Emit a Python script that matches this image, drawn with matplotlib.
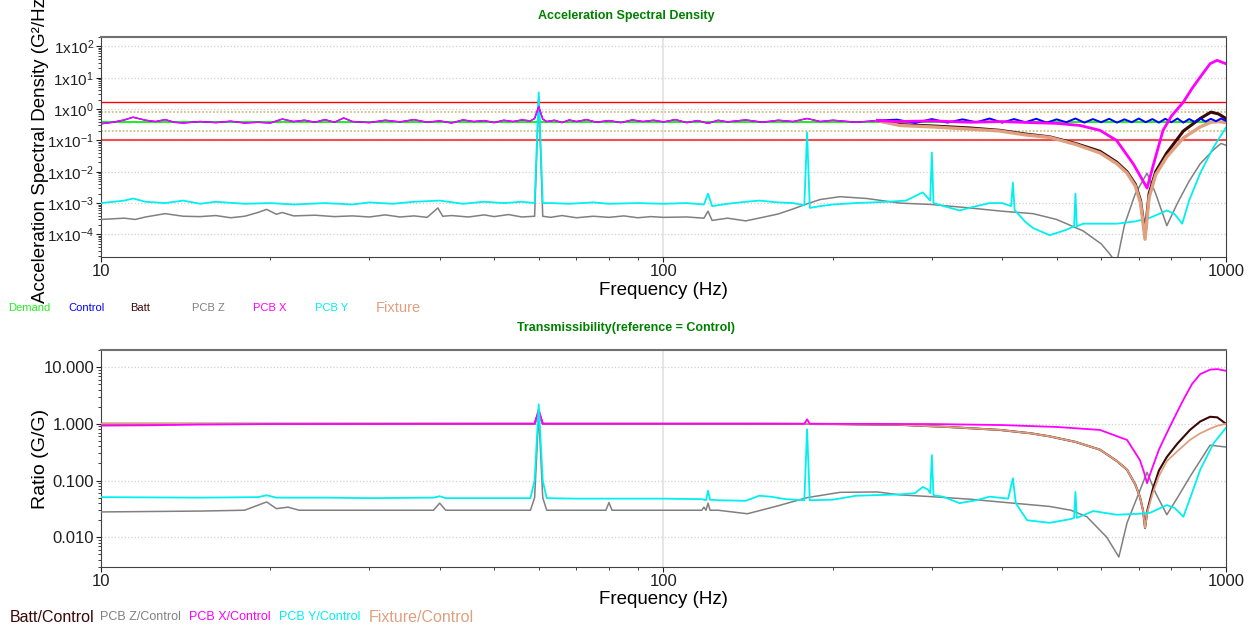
import matplotlib as mpl
mpl.use('Agg')
import matplotlib.pyplot as plt
from matplotlib.ticker import FixedLocator, FuncFormatter, LogLocator, NullFormatter

plt.rcParams['font.family'] = ['Liberation Sans', 'DejaVu Sans']
plt.rcParams['mathtext.default'] = 'regular'

# ---------------- data: ASD (G^2/Hz) ----------------
demand_level = 0.4
alarm_levels = [0.8, 0.2]
abort_levels = [1.64, 0.1]

# shared low-frequency part of the controlled channels
asd_base_f = [10, 10.5, 11, 11.4, 12, 12.5, 13, 13.5, 14, 15, 16, 17, 18, 19, 20, 21, 22, 23,
              24, 25, 26, 27, 28, 30, 32, 34, 36, 38, 40, 42, 44, 46, 48, 50, 52, 54, 56, 58,
              59, 60, 61, 62, 64, 66, 68, 70, 73, 76, 80, 84, 88, 92, 96, 100, 105, 110, 115,
              120, 125, 130, 140, 150, 160, 170, 180, 190, 200, 220, 240]
asd_base_v = [0.34, 0.38, 0.45, 0.55, 0.44, 0.40, 0.46, 0.38, 0.36, 0.40, 0.37, 0.41, 0.36,
              0.38, 0.36, 0.48, 0.40, 0.44, 0.38, 0.46, 0.38, 0.52, 0.40, 0.37, 0.44, 0.39,
              0.46, 0.38, 0.42, 0.36, 0.45, 0.40, 0.43, 0.37, 0.44, 0.40, 0.45, 0.42, 0.50,
              1.20, 0.48, 0.40, 0.44, 0.37, 0.45, 0.40, 0.46, 0.38, 0.43, 0.37, 0.45, 0.40,
              0.44, 0.39, 0.46, 0.37, 0.43, 0.35, 0.44, 0.39, 0.45, 0.38, 0.44, 0.40, 0.50,
              0.40, 0.44, 0.38, 0.43]

control_tail_f = [240, 260, 280, 300, 320, 340, 360, 380, 400, 420, 440, 460, 480, 500, 520,
                  540, 560, 580, 600, 620, 640, 660, 680, 700, 720, 740, 760, 780, 800, 820,
                  840, 860, 880, 900, 920, 940, 960, 980, 1000]
control_tail_v = [0.43, 0.46, 0.36, 0.48, 0.37, 0.47, 0.38, 0.50, 0.37, 0.48, 0.38, 0.49,
                  0.37, 0.47, 0.38, 0.50, 0.37, 0.48, 0.38, 0.49, 0.37, 0.47, 0.38, 0.50,
                  0.38, 0.48, 0.37, 0.49, 0.38, 0.50, 0.37, 0.48, 0.39, 0.50, 0.40, 0.49,
                  0.41, 0.50, 0.42]

pcbx_tail_f = [240, 260, 300, 350, 400, 450, 500, 550, 597, 639, 684, 705, 724, 745, 773,
               800, 840, 870, 900, 937, 964, 1000]
pcbx_tail_v = [0.43, 0.40, 0.42, 0.38, 0.40, 0.37, 0.35, 0.30, 0.21, 0.10, 0.018, 0.007,
               0.003, 0.02, 0.21, 0.6, 1.67, 4.5, 10.5, 28.0, 36.0, 28.0]

batt_tail_f = [240, 263, 300, 350, 396, 440, 486, 540, 597, 640, 667, 690, 705, 718, 730,
               750, 785, 840, 900, 940, 970, 1000]
batt_tail_v = [0.43, 0.32, 0.29, 0.25, 0.21, 0.16, 0.13, 0.08, 0.045, 0.02, 0.01, 0.004,
               0.0012, 0.0001, 0.002, 0.01, 0.04, 0.2, 0.5, 0.8, 0.7, 0.5]

fixture_tail_f = [240, 263, 300, 350, 396, 440, 486, 540, 597, 640, 667, 690, 705, 718, 730,
                  750, 785, 840, 900, 940, 970, 1000]
fixture_tail_v = [0.43, 0.30, 0.27, 0.23, 0.20, 0.15, 0.125, 0.075, 0.04, 0.018, 0.009,
                  0.0035, 0.001, 0.00007, 0.0015, 0.008, 0.03, 0.12, 0.27, 0.38, 0.40, 0.37]

pcbz_f = [10, 11, 11.5, 12, 13, 14, 15, 16, 17, 18, 19, 19.7, 20.5, 21, 22, 24, 26, 28, 30,
          32, 34, 36, 38, 39.7, 40.5, 42, 45, 48, 50, 53, 56, 59, 60, 61, 63, 66, 70, 75, 80,
          85, 90, 95, 100, 110, 118, 120, 122, 130, 140, 150, 160, 170, 180, 190, 206, 230,
          263, 300, 350, 400, 454, 500, 557, 600, 620, 639, 660, 690, 724, 750, 785, 820,
          860, 900, 950, 980, 1000]
pcbz_v = [3.0e-4, 3.3e-4, 3.0e-4, 3.6e-4, 4.6e-4, 3.8e-4, 3.7e-4, 4.0e-4, 3.4e-4, 3.8e-4,
          5.0e-4, 6.3e-4, 4.4e-4, 5.0e-4, 3.9e-4, 4.1e-4, 3.7e-4, 3.9e-4, 3.6e-4, 4.2e-4,
          3.6e-4, 3.9e-4, 3.5e-4, 7.0e-4, 3.8e-4, 4.0e-4, 3.6e-4, 4.2e-4, 3.7e-4, 4.3e-4,
          3.6e-4, 3.8e-4, 2.5, 3.8e-4, 3.5e-4, 4.0e-4, 3.4e-4, 3.8e-4, 3.5e-4, 3.9e-4,
          3.4e-4, 3.7e-4, 3.5e-4, 3.6e-4, 3.3e-4, 5.5e-4, 2.8e-4, 3.3e-4, 2.7e-4, 3.5e-4,
          4.5e-4, 6.5e-4, 9.5e-4, 1.3e-3, 1.6e-3, 1.4e-3, 1.0e-3, 9.0e-4, 7.0e-4, 5.5e-4,
          4.6e-4, 3.0e-4, 1.3e-4, 5.0e-5, 2.5e-5, 1.2e-5, 2.0e-4, 2.0e-3, 9.0e-3, 2.0e-3,
          1.9e-4, 1.0e-3, 5.0e-3, 1.8e-2, 5.0e-2, 8.0e-2, 7.0e-2]

pcby_f = [10, 11, 11.4, 12, 13, 14, 15, 16, 18, 20, 22, 25, 28, 30, 33, 36, 40, 44, 48, 52,
          56, 59, 60, 61, 63, 68, 75, 80, 90, 100, 110, 118, 120, 122, 130, 140, 148, 160,
          170, 178, 180, 182, 190, 200, 220, 250, 270, 289, 298, 300, 302, 315, 336, 360,
          380, 400, 415, 418, 421, 440, 454, 486, 520, 537, 540, 543, 557, 600, 639, 690,
          733, 785, 810, 836, 860, 900, 950, 1000]
pcby_v = [1.0e-3, 1.2e-3, 1.4e-3, 1.1e-3, 1.0e-3, 1.2e-3, 9.5e-4, 1.1e-3, 9.5e-4, 1.0e-3,
          9.0e-4, 1.0e-3, 9.0e-4, 1.05e-3, 9.5e-4, 1.1e-3, 1.2e-3, 9.5e-4, 1.1e-3, 1.0e-3,
          1.1e-3, 1.0e-3, 3.4, 1.0e-3, 1.0e-3, 9.5e-4, 1.05e-3, 9.5e-4, 1.0e-3, 9.5e-4,
          1.0e-3, 9.0e-4, 2.0e-3, 8.0e-4, 9.5e-4, 1.1e-3, 1.2e-3, 1.05e-3, 1.0e-3, 8.5e-4,
          0.18, 7.0e-4, 8.0e-4, 9.0e-4, 1.0e-3, 1.1e-3, 1.2e-3, 2.2e-3, 1.2e-3, 0.041,
          1.0e-3, 8.0e-4, 5.8e-4, 8.0e-4, 1.0e-3, 1.0e-3, 8.0e-4, 4.5e-3, 6.0e-4, 2.5e-4,
          1.6e-4, 9.4e-5, 1.4e-4, 1.8e-4, 2.0e-3, 1.8e-4, 2.2e-4, 2.2e-4, 2.2e-4, 2.6e-4,
          3.4e-4, 5.8e-4, 4.5e-4, 2.2e-4, 1.2e-3, 9.0e-3, 6.0e-2, 2.6e-1]

# ---------------- data: transmissibility (G/G) ----------------
tr_batt_f = [10, 50, 59, 60, 61, 100, 150, 200, 263, 320, 396, 450, 486, 540, 597, 640, 667,
             690, 703, 712, 718, 725, 741, 760, 785, 820, 863, 900, 937, 965, 1000]
tr_batt_v = [1.0, 1.0, 1.0, 1.6, 1.0, 1.0, 1.0, 0.99, 0.96, 0.88, 0.78, 0.68, 0.6, 0.48,
             0.35, 0.22, 0.155, 0.085, 0.052, 0.03, 0.0146, 0.03, 0.07, 0.15, 0.26, 0.45,
             0.78, 1.1, 1.33, 1.3, 1.0]

tr_fixture_f = [10, 50, 59, 60, 61, 100, 150, 200, 263, 320, 396, 450, 486, 540, 597, 640,
                667, 690, 703, 712, 718, 725, 741, 760, 785, 820, 863, 900, 937, 965, 1000]
tr_fixture_v = [1.0, 1.0, 1.0, 1.5, 1.0, 1.0, 1.0, 0.99, 0.96, 0.88, 0.78, 0.68, 0.6, 0.48,
                0.35, 0.22, 0.155, 0.085, 0.052, 0.03, 0.0146, 0.028, 0.06, 0.12, 0.22, 0.33,
                0.52, 0.68, 0.82, 0.92, 1.0]

tr_pcbx_f = [10, 12, 15, 20, 50, 59, 60, 61, 100, 178, 180, 182, 300, 400, 500, 597, 667,
             703, 715, 724, 735, 760, 785, 810, 840, 870, 900, 937, 965, 1000]
tr_pcbx_v = [0.93, 0.94, 0.97, 0.99, 1.0, 1.0, 1.8, 1.0, 1.0, 1.0, 1.2, 1.0, 0.99, 0.95,
             0.88, 0.78, 0.52, 0.23, 0.14, 0.09, 0.14, 0.35, 0.69, 1.3, 2.65, 5.0, 7.5, 9.0,
             9.2, 8.6]

tr_pcbz_f = [10, 15, 18, 19.7, 20.5, 21.5, 22.5, 25, 30, 39, 40, 41, 50, 58, 59, 60, 61, 62,
             70, 79, 80, 81, 100, 117, 118, 119, 120, 121, 125, 141, 160, 180, 206, 240, 263,
             300, 350, 396, 486, 530, 566, 614, 645, 667, 700, 724, 750, 785, 820, 863, 937,
             1000]
tr_pcbz_v = [0.028, 0.029, 0.030, 0.042, 0.032, 0.034, 0.030, 0.030, 0.030, 0.030, 0.040,
             0.030, 0.030, 0.030, 0.05, 1.5, 0.05, 0.030, 0.030, 0.030, 0.041, 0.030, 0.030,
             0.030, 0.034, 0.030, 0.040, 0.030, 0.030, 0.026, 0.036, 0.050, 0.062, 0.063,
             0.056, 0.052, 0.047, 0.042, 0.035, 0.030, 0.023, 0.010, 0.0045, 0.018, 0.06,
             0.14, 0.06, 0.025, 0.05, 0.117, 0.42, 0.39]

tr_pcby_f = [10, 15, 19, 19.7, 20.5, 25, 30, 39, 40, 41, 50, 58, 59, 60, 61, 62, 70, 80, 100,
             117, 119, 120, 121, 125, 140, 148, 155, 165, 178, 180, 182, 200, 220, 263, 280,
             289, 295, 298, 300, 302, 314, 336, 360, 380, 410, 418, 423, 443, 486, 530, 537,
             540, 543, 581, 639, 700, 733, 785, 810, 827, 840, 870, 900, 950, 1000]
tr_pcby_v = [0.051, 0.050, 0.051, 0.055, 0.050, 0.050, 0.049, 0.050, 0.053, 0.049, 0.049,
             0.049, 0.1, 2.2, 0.1, 0.049, 0.048, 0.048, 0.048, 0.047, 0.045, 0.066, 0.046,
             0.045, 0.044, 0.054, 0.052, 0.047, 0.045, 0.8, 0.045, 0.046, 0.054, 0.057,
             0.060, 0.077, 0.07, 0.06, 0.28, 0.055, 0.052, 0.040, 0.045, 0.052, 0.048, 0.11,
             0.04, 0.02, 0.018, 0.021, 0.022, 0.063, 0.022, 0.029, 0.025, 0.026, 0.027,
             0.037, 0.033, 0.027, 0.023, 0.06, 0.155, 0.45, 0.85]

asd_ticks = [1e-4, 1e-3, 1e-2, 1e-1, 1e0, 1e1, 1e2]
asd_tick_labels = ['1x10$^{-4}$', '1x10$^{-3}$', '1x10$^{-2}$', '1x10$^{-1}$',
                   '1x10$^{0}$', '1x10$^{1}$', '1x10$^{2}$']
ratio_ticks = [0.01, 0.1, 1.0, 10.0]
ratio_tick_labels = ['0.010', '0.100', '1.000', '10.000']

c_demand = '#22ee22'
c_control = '#0000ff'
c_batt = '#3a0808'
c_pcbz = '#808080'
c_pcbx = '#ff00ff'
c_pcby = '#00f0f0'
c_fixture = '#e0a080'

fig = plt.figure(figsize=(12.52, 6.29), dpi=100)
ax1 = fig.add_axes([0.0807, 0.5914, 0.8985, 0.3498])
ax2 = fig.add_axes([0.0807, 0.0986, 0.8985, 0.345])


def style_axes(ax):
    ax.set_xscale('log')
    ax.set_yscale('log')
    ax.set_xlim(10, 1000)
    ax.xaxis.set_major_locator(FixedLocator([10, 100, 1000]))
    ax.xaxis.set_major_formatter(FuncFormatter(lambda v, p: '%d' % round(v)))
    ax.xaxis.set_minor_locator(LogLocator(base=10, subs=range(2, 10)))
    ax.xaxis.set_minor_formatter(NullFormatter())
    ax.yaxis.set_minor_locator(LogLocator(base=10, subs=range(2, 10), numticks=20))
    ax.yaxis.set_minor_formatter(NullFormatter())
    ax.tick_params(which='both', direction='out', colors='#202020', labelsize=12)
    ax.tick_params(which='major', length=3.5)
    ax.tick_params(which='minor', length=2.5)
    ax.tick_params(axis='y', which='major', pad=1.5)
    ax.tick_params(axis='x', which='major', pad=1.5)
    for s in ax.spines.values():
        s.set_color('#404040')
    ax.spines['top'].set_color('#707070')
    ax.spines['top'].set_linewidth(1.5)
    ax.grid(which='major', axis='y', color='#d0d0d0', linestyle=':', linewidth=0.9)
    ax.axvline(100, color='#e2e2e2', linewidth=1.2, zorder=0)
    ax.set_xlabel('Frequency (Hz)', fontsize=13.5)
    ax.xaxis.set_label_coords(0.5, -0.112)
    ax.yaxis.set_label_coords(-0.046, 0.5)


# ---- top: ASD ----
style_axes(ax1)
ax1.set_ylim(1.9e-5, 200)
ax1.set_yticks(asd_ticks)
ax1.set_yticklabels(asd_tick_labels, fontsize=11)

ax1.axhline(abort_levels[0], color='#ff0000', linewidth=1.0, zorder=2)
ax1.axhline(abort_levels[1], color='#f05050', linewidth=1.5, zorder=2)
for lv in alarm_levels:
    ax1.axhline(lv, color='#c8c488', linewidth=1.3, linestyle=(0, (1, 1)), zorder=2)
ax1.axhline(demand_level, color=c_demand, linewidth=1.5, zorder=2)

ax1.plot(pcbz_f, pcbz_v, color=c_pcbz, linewidth=1.1, zorder=3)
ax1.plot(pcby_f, pcby_v, color=c_pcby, linewidth=1.3, zorder=4)
# low-frequency part, thin
ax1.plot(asd_base_f, asd_base_v, color=c_control, linewidth=1.0, zorder=5)
ax1.plot(asd_base_f, asd_base_v, color=c_pcbx, linewidth=1.0, zorder=6)
# noisy high-frequency parts, drawn as thick bands
ax1.plot(batt_tail_f, batt_tail_v, color=c_batt, linewidth=2.2, zorder=5)
ax1.plot(fixture_tail_f, fixture_tail_v, color=c_fixture, linewidth=2.4, zorder=6)
ax1.plot(control_tail_f, control_tail_v, color=c_control, linewidth=1.4, zorder=7)
ax1.plot(pcbx_tail_f, pcbx_tail_v, color=c_pcbx, linewidth=2.0, zorder=8)

ax1.set_ylabel('Acceleration Spectral Density (G²/Hz)', fontsize=13.5)

# ---- bottom: transmissibility ----
style_axes(ax2)
ax2.set_ylim(0.003, 20)
ax2.set_yticks(ratio_ticks)
ax2.set_yticklabels(ratio_tick_labels, fontsize=12)

ax2.plot(tr_pcbz_f, tr_pcbz_v, color=c_pcbz, linewidth=1.1, zorder=3)
ax2.plot(tr_batt_f, tr_batt_v, color=c_batt, linewidth=1.5, zorder=4)
ax2.plot(tr_fixture_f, tr_fixture_v, color=c_fixture, linewidth=1.3, zorder=5)
ax2.plot(tr_pcbx_f, tr_pcbx_v, color=c_pcbx, linewidth=1.3, zorder=6)
ax2.plot(tr_pcby_f, tr_pcby_v, color=c_pcby, linewidth=1.3, zorder=7)
ax2.set_ylabel('Ratio (G/G)', fontsize=14)

# ---- titles ----
fig.text(0.5, 0.9746, 'Acceleration Spectral Density', color='#008000', fontsize=9,
         fontweight='bold', ha='center', va='center')
fig.text(0.5, 0.4785, 'Transmissibility(reference = Control)', color='#008000', fontsize=9,
         fontweight='bold', ha='center', va='center')

# ---- legend texts ----
legend1 = [('Demand', 8, c_demand, 8), ('Control', 68, c_control, 8), ('Batt', 130, c_batt, 8),
           ('PCB Z', 192, c_pcbz, 8), ('PCB X', 253, c_pcbx, 8), ('PCB Y', 315, c_pcby, 8),
           ('Fixture', 376, c_fixture, 10.5)]
for txt, xp, col, fs in legend1:
    fig.text(xp / 1252, 1 - 308 / 629, txt, color=col, fontsize=fs, ha='left', va='center')

legend2 = [('Batt/Control', 10, c_batt, 11.5), ('PCB Z/Control', 100, c_pcbz, 9),
           ('PCB X/Control', 189, c_pcbx, 9), ('PCB Y/Control', 279, c_pcby, 9),
           ('Fixture/Control', 369, c_fixture, 11.5)]
for txt, xp, col, fs in legend2:
    fig.text(xp / 1252, 1 - 617 / 629, txt, color=col, fontsize=fs, ha='left', va='center')

fig.savefig('out.png', dpi=100)
